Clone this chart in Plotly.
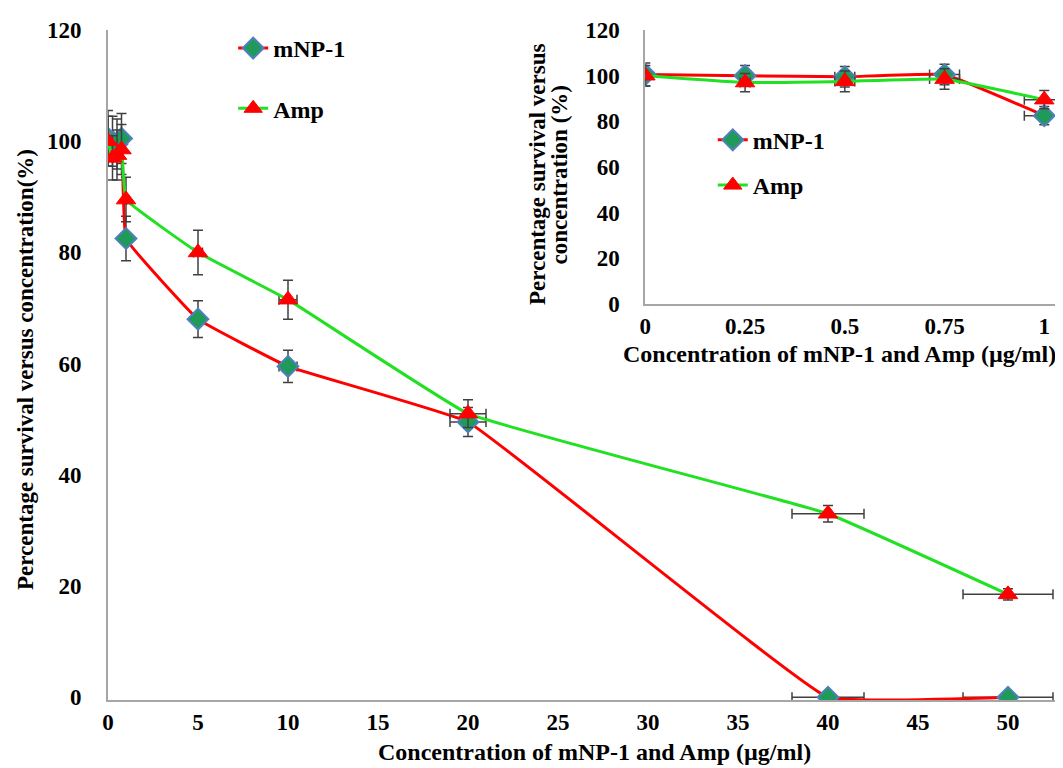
import plotly.graph_objects as go

# ---- data ----
conc = [0, 0.25, 0.5, 0.75, 1, 5, 10, 20, 40, 50]
mnp = [100.5, 100, 99.5, 100.5, 82.5, 68, 59.5, 49.5, 0, 0]
mnp_err = [5, 4.5, 4.5, 4.5, 4, 3.3, 2.9, 2.6, 0, 0]
amp = [100, 97, 97.5, 98.5, 89.5, 80, 71.5, 51, 33, 18.5]
amp_err = [4.5, 4, 4.5, 4.5, 4, 4, 3.5, 2.5, 1.5, 1]
conc_err = [c * 0.05 for c in conc]
inset_n = 5  # points with concentration <= 1

main_xticks = [0, 5, 10, 15, 20, 25, 30, 35, 40, 45, 50]
main_yticks = [0, 20, 40, 60, 80, 100, 120]
inset_xticks = [0, 0.25, 0.5, 0.75, 1]
inset_xticklabels = ["0", "0.25", "0.5", "0.75", "1"]

x_title = "Concentration of mNP-1 and Amp (µg/ml)"
y_title_main = "Percentage survival versus concentration(%)"
y_title_inset_1 = "Percentage survival versus"
y_title_inset_2 = "concentration (%)"

FONT = "Liberation Serif"
ERR = "#404040"
RED = "#FF0000"
GREEN = "#22E022"
DIA_FILL = "#1F9A58"
DIA_EDGE = "#4F81BD"
SMOOTH = 0.25


def err(vals, thick=1.5, w=5):
    return dict(type="data", array=vals, visible=True, color=ERR, thickness=thick, width=w)


def mnp_trace(x, y, ey, ex, legend, xa, ya, group):
    return go.Scatter(
        x=x, y=y, name="mNP-1", mode="lines+markers",
        line=dict(color=RED, width=3, shape="spline", smoothing=SMOOTH),
        marker=dict(symbol="diamond", size=16, color=DIA_FILL, line=dict(color=DIA_EDGE, width=2)),
        error_y=err(ey), error_x=err(ex), legendgroup=group, legend=legend, xaxis=xa, yaxis=ya)


def amp_trace(x, y, ey, ex, legend, xa, ya, group):
    return go.Scatter(
        x=x, y=y, name="Amp", mode="lines+markers",
        line=dict(color=GREEN, width=3, shape="spline", smoothing=SMOOTH),
        marker=dict(symbol="triangle-up", size=17, color=RED, line=dict(color=RED, width=1)),
        error_y=err(ey), error_x=err(ex), legendgroup=group, legend=legend, xaxis=xa, yaxis=ya)


fig = go.Figure()
fig.add_trace(mnp_trace(conc, mnp, mnp_err, conc_err, "legend", "x", "y", "m"))
fig.add_trace(amp_trace(conc, amp, amp_err, conc_err, "legend", "x", "y", "a"))
fig.add_trace(mnp_trace(conc[:inset_n], mnp[:inset_n], mnp_err[:inset_n], conc_err[:inset_n],
                        "legend2", "x2", "y2", "m2"))
fig.add_trace(amp_trace(conc[:inset_n], amp[:inset_n], amp_err[:inset_n], conc_err[:inset_n],
                        "legend2", "x2", "y2", "a2"))

TICKFONT = dict(family=FONT, size=23, color="black", weight="bold")
axis_common = dict(showgrid=False, zeroline=False, showline=True, linecolor="#A6A6A6",
                   linewidth=2, ticks="", tickfont=TICKFONT, automargin=False,
                   layer="below traces")

fig.update_layout(
    width=1063, height=768,
    margin=dict(l=100, r=0, t=22, b=76),
    paper_bgcolor="white", plot_bgcolor="rgba(0,0,0,0)",
    font=dict(family=FONT, color="black"),
    xaxis=dict(axis_common, range=[0, 53.5], tickvals=main_xticks, domain=[0, 1],
               ticklabelstandoff=0),
    yaxis=dict(axis_common, range=[-0.5, 120], tickvals=main_yticks, domain=[0, 1],
               ticklabelstandoff=20),
    xaxis2=dict(axis_common, anchor="y2", range=[0, 1.067], tickvals=inset_xticks,
                ticktext=inset_xticklabels, domain=[0.558, 1], ticklabelstandoff=0),
    yaxis2=dict(axis_common, anchor="x2", range=[0, 120], tickvals=main_yticks,
                domain=[0.591, 1], ticklabelstandoff=19),
    legend=dict(x=0.130, y=1.006, xanchor="left", yanchor="top",
                bgcolor="rgba(0,0,0,0)", tracegroupgap=26,
                font=dict(family=FONT, size=24, color="black", weight="bold")),
    legend2=dict(x=0.628, y=0.869, xanchor="left", yanchor="top",
                 bgcolor="rgba(0,0,0,0)", tracegroupgap=11,
                 font=dict(family=FONT, size=24, color="black", weight="bold")),
    showlegend=True,
)

xt_font = dict(family=FONT, size=24, color="black", weight="bold")
yt_font = dict(family=FONT, size=23, color="black", weight="bold")
fig.add_annotation(text=x_title, xref="paper", yref="paper", x=0.505, y=-0.0776,
                   xanchor="center", yanchor="middle", showarrow=False, font=xt_font)
fig.add_annotation(text=y_title_main, xref="paper", yref="paper", x=-0.0862, y=0.494,
                   xanchor="center", yanchor="middle", textangle=-90, showarrow=False,
                   font=yt_font)
fig.add_annotation(text=x_title, xref="paper", yref="paper", x=0.760, y=0.5164,
                   xanchor="center", yanchor="middle", showarrow=False, font=xt_font)
fig.add_annotation(text=y_title_inset_1, xref="paper", yref="paper", x=0.4455, y=0.785,
                   xanchor="center", yanchor="middle", textangle=-90, showarrow=False,
                   font=yt_font)
fig.add_annotation(text=y_title_inset_2, xref="paper", yref="paper", x=0.4688, y=0.785,
                   xanchor="center", yanchor="middle", textangle=-90, showarrow=False,
                   font=yt_font)

fig.write_html("out.html")
